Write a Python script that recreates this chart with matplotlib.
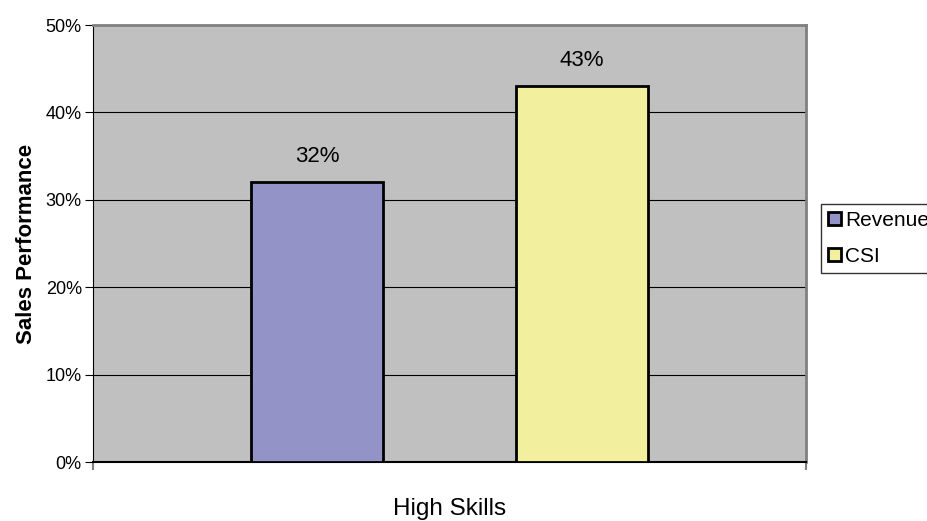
import matplotlib
matplotlib.use("Agg")
import matplotlib.pyplot as plt

plt.rcParams["font.family"] = ["Liberation Sans", "DejaVu Sans"]

CATEGORY = "High Skills"
SERIES = ["Revenue", "CSI"]
VALUES = [0.32, 0.43]
COLORS = ["#9393C8", "#F2F09E"]
YTICKS = [0, 0.1, 0.2, 0.3, 0.4, 0.5]

fig = plt.figure(figsize=(9.27, 5.21), dpi=100)
ax = fig.add_axes([0.1003, 0.1132, 0.7692, 0.8388])
ax.set_facecolor("#C0C0C0")

width = 0.185
offsets = [-0.1855, 0.1855]
handles = []
for name, val, col, off in zip(SERIES, VALUES, COLORS, offsets):
    b = ax.bar(off, val, width=width, color=col, edgecolor="black",
               linewidth=2, zorder=3, label=name)
    handles.append(b)
    ax.text(off, val + 0.017, f"{val:.0%}", ha="center", va="bottom",
            fontsize=16, zorder=4)

ax.set_xlim(-0.5, 0.5)
ax.set_ylim(0, 0.5)
ax.set_yticks(YTICKS)
ax.set_yticklabels([f"{t:.0%}" for t in YTICKS], fontsize=13)
ax.yaxis.grid(True, color="black", linewidth=0.8, zorder=1)
ax.set_axisbelow(True)
ax.set_xticks([-0.5, 0.5])
ax.set_xticklabels(["", ""])
ax.tick_params(axis="x", length=6, color="#808080", width=1.5)
ax.tick_params(axis="y", length=6, color="black", pad=2)
ax.text(0.5, -0.108, CATEGORY, transform=ax.transAxes, ha="center",
        va="center", fontsize=17.5)
ax.set_ylabel("Sales Performance", fontsize=16, fontweight="bold", labelpad=6)

for s in ["top", "right"]:
    ax.spines[s].set_color("#808080")
    ax.spines[s].set_linewidth(2)
ax.spines["left"].set_color("black")
ax.spines["bottom"].set_color("black")
ax.spines["bottom"].set_linewidth(1.5)

leg = fig.legend(handles=handles, labels=SERIES, loc="lower left",
                 bbox_to_anchor=(821 / 927, 1 - 273 / 521), fontsize=15,
                 frameon=True, fancybox=False, edgecolor="black",
                 handlelength=0.62, handleheight=0.62, handletextpad=0.2,
                 borderpad=0.35, labelspacing=0.8, borderaxespad=0)
leg.get_frame().set_linewidth(1)
for h in leg.legend_handles:
    h.set_linewidth(2)

fig.savefig("out.png", dpi=100)
